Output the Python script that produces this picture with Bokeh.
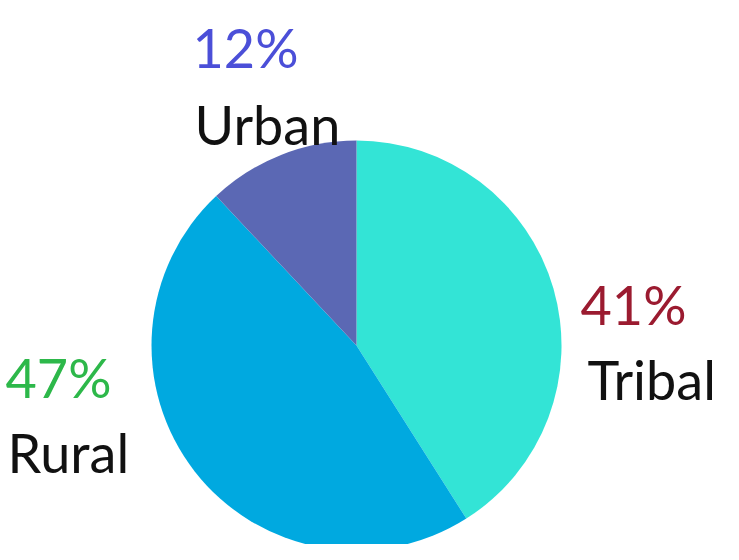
import math
from bokeh.plotting import figure
from bokeh.models import Range1d, ColumnDataSource
from bokeh.core.properties import value
from bokeh.embed import file_html
from bokeh.resources import INLINE

# ---- data ----
categories = ["Tribal", "Rural", "Urban"]
shares = [41, 47, 12]
slice_colors = ["#33E4D6", "#00A9E0", "#5B68B4"]
pct_colors = ["#9B1B30", "#2DB84A", "#4B4FD8"]

# ---- layout (pixels within the figure) ----
W, H = 723, 544
cx, cy, r = 356, 199, 205
# label anchors (left, baseline) for percentage and name
pct_pos = [(580, 240), (5, 167), (192, 497)]
name_pos = [(587, 165), (7, 92), (194, 420)]

total = sum(shares)
starts, ends = [], []
a = math.pi / 2
for s in shares:
    starts.append(a)
    a -= s / total * 2 * math.pi
    ends.append(a)

p = figure(width=W, height=H, output_backend="svg", toolbar_location=None,
           x_range=Range1d(0, W), y_range=Range1d(0, H), min_border=0)
p.axis.visible = False
p.grid.visible = False
p.outline_line_color = None
p.background_fill_color = "white"
p.border_fill_color = "white"

src = ColumnDataSource(dict(start=starts, end=ends, color=slice_colors, cat=categories))
p.wedge(x=cx, y=cy, radius=r, start_angle="start", end_angle="end",
        direction="clock", fill_color="color", line_color=None, source=src)

pct_src = ColumnDataSource(dict(x=[q[0] for q in pct_pos], y=[q[1] for q in pct_pos],
                                t=[f"{s}%" for s in shares], c=pct_colors))
p.text(x="x", y="y", text="t", text_color="c", source=pct_src,
       text_font=value("Lato"), text_font_size="54px",
       text_align="left", text_baseline="alphabetic")

name_src = ColumnDataSource(dict(x=[q[0] for q in name_pos], y=[q[1] for q in name_pos],
                                 t=categories))
p.text(x="x", y="y", text="t", text_color="#111111", source=name_src,
       text_font=value("Lato"), text_font_size="54px",
       text_align="left", text_baseline="alphabetic")

open("out.html", "w").write(file_html(p, INLINE))
